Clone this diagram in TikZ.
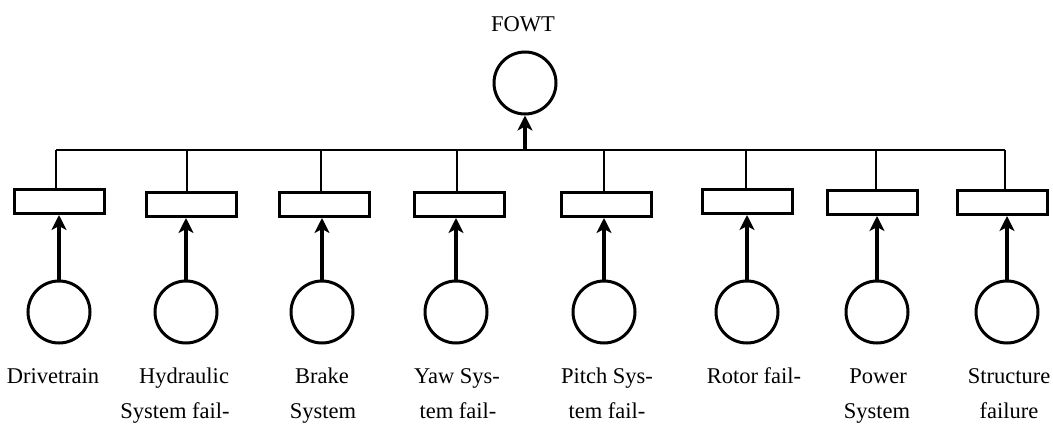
\documentclass[tikz,border=0pt]{standalone}
\usepackage{fontspec}
\setmainfont{Liberation Serif}
\newfontfamily\lblfont{Liberation Serif}
\usetikzlibrary{arrows.meta}
\begin{document}
\begin{tikzpicture}[x=1pt,y=-1pt,
  event/.style={circle,draw,line width=3pt,minimum size=62pt,inner sep=0pt},
  gatebox/.style={rectangle,draw,line width=3pt,minimum width=90pt,minimum height=24pt,inner sep=0pt},
  feed/.style={line width=3.2pt,-{Stealth[length=15pt,width=15pt,inset=4pt]}},
  bus/.style={line width=1.6pt},
  lbl/.style={anchor=base,inner sep=0pt,font=\lblfont\fontsize{22.5}{27}\selectfont}]
\useasboundingbox (0,0) rectangle (1053,425);
% top event
\node[lbl] (title) at (523,32) {FOWT};
\node[event] (top) at (525,83) {};
\coordinate (hub) at (525,150);
\draw[feed] (hub) -- (top.south);
% boxes
\node[gatebox] (b1) at (59,201.5) {};
\node[gatebox] (b2) at (191,204.5) {};
\node[gatebox] (b3) at (324,204.5) {};
\node[gatebox] (b4) at (459,204.5) {};
\node[gatebox] (b5) at (606,204.5) {};
\node[gatebox] (b6) at (747,201.5) {};
\node[gatebox] (b7) at (872,202.5) {};
\node[gatebox] (b8) at (1002,202.5) {};
% bus
\coordinate (busL) at (56,150);
\coordinate (busR) at (1005,150);
\draw[bus] (busL) -- (busR);
\foreach \i/\x in {1/56,2/187,3/321,4/457,5/604,6/746,7/876,8/1005}{
  \coordinate (t\i) at (\x,150);
  \draw[bus] (t\i) -- (t\i |- b\i.north);
}
% basic events
\node[event] (c1) at (59,312) {};
\node[event] (c2) at (186,312) {};
\node[event] (c3) at (322,312) {};
\node[event] (c4) at (456,312) {};
\node[event] (c5) at (604,312) {};
\node[event] (c6) at (747,312) {};
\node[event] (c7) at (877,312) {};
\node[event] (c8) at (1007,312) {};
\foreach \i in {1,...,8}{
  \draw[feed] (c\i.north) -- (c\i.north |- b\i.south);
}
% labels
\node[lbl] (l1a) at (53,383) {Drivetrain};
\node[lbl] (l2a) at (184,383) {Hydraulic};
\node[lbl] (l2b) at (175,418) {System fail-};
\node[lbl] (l3a) at (322,383) {Brake};
\node[lbl] (l3b) at (323,418) {System};
\node[lbl] (l4a) at (457,383) {Yaw Sys-};
\node[lbl] (l4b) at (458,418) {tem fail-};
\node[lbl] (l5a) at (607,383) {Pitch Sys-};
\node[lbl] (l5b) at (607,418) {tem fail-};
\node[lbl] (l6a) at (754,383) {Rotor fail-};
\node[lbl] (l7a) at (878,383) {Power};
\node[lbl] (l7b) at (877,418) {System};
\node[lbl] (l8a) at (1009,383) {Structure};
\node[lbl] (l8b) at (1009,418) {failure};
\end{tikzpicture}
\end{document}
